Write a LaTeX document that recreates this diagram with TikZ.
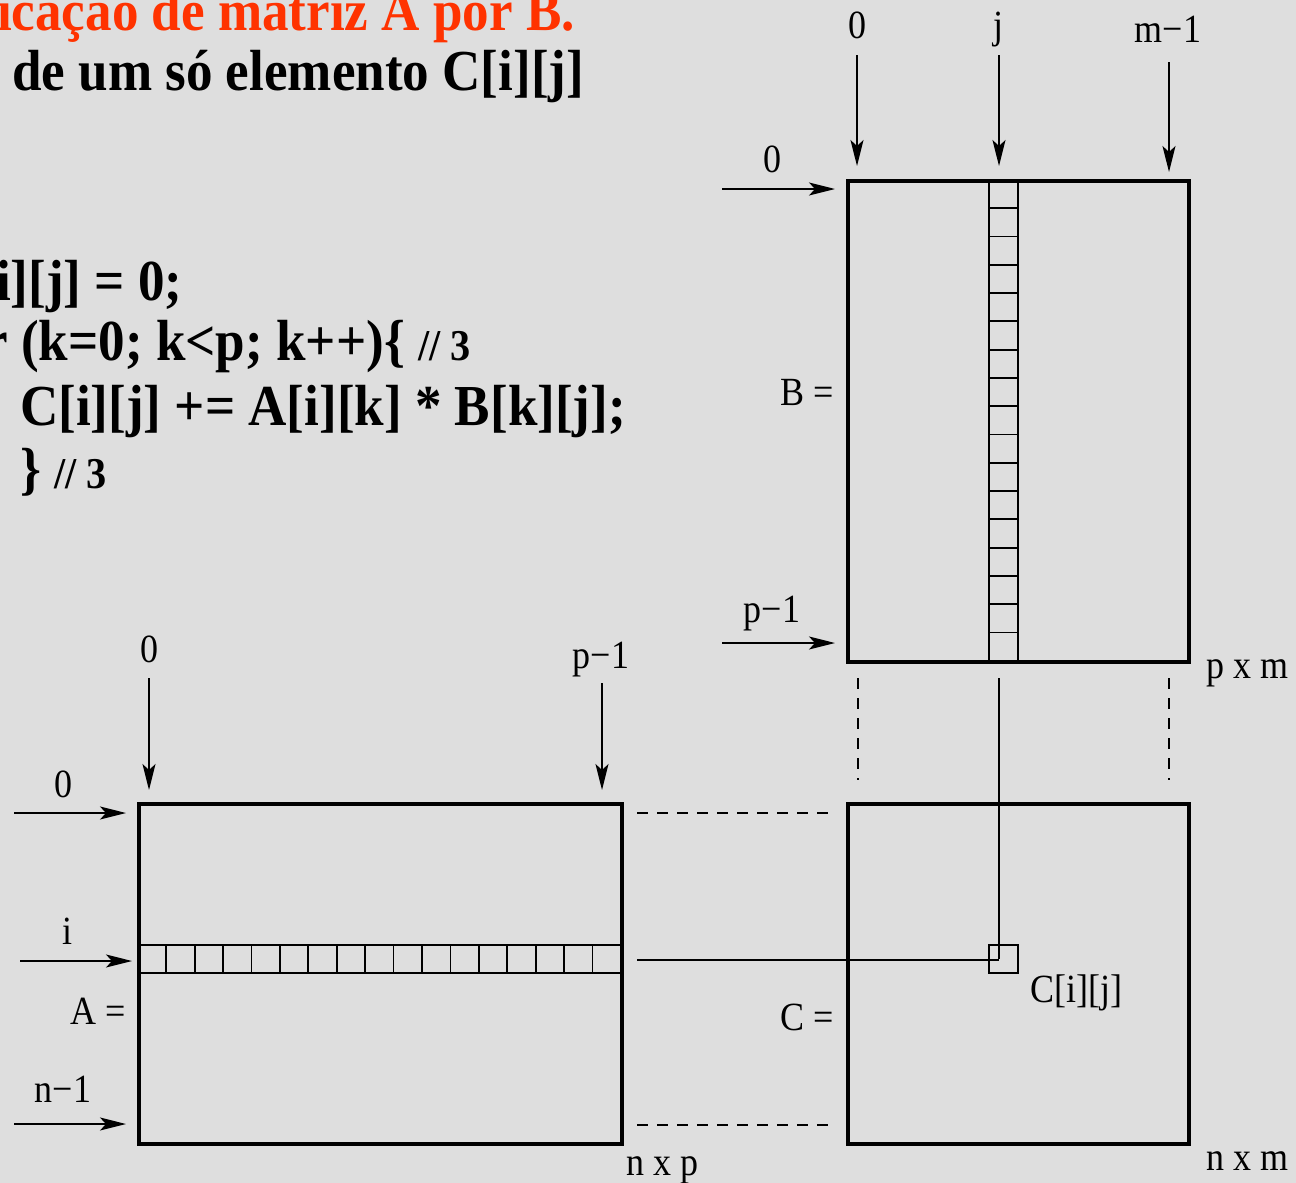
\documentclass[tikz,border=0pt]{standalone}
\usepackage{fontspec}
\setmainfont{Liberation Serif}
\newfontfamily\codefont[FakeStretch=0.915]{Liberation Serif}
\newfontfamily\labfont[FakeStretch=0.9]{Liberation Serif}
\usetikzlibrary{arrows.meta}
\definecolor{bgc}{RGB}{222,222,222}
\definecolor{titlered}{RGB}{255,51,0}
\begin{document}
\begin{tikzpicture}[x=1pt,y=-1pt,
  mbox/.style={draw, line width=3.6pt, inner sep=0pt, anchor=north west},
  cell/.style={draw, line width=1.8pt, inner sep=0pt, anchor=north west},
  arr/.style={-{Stealth[length=26pt,width=13pt,inset=6pt]}, line width=1.8pt},
  thinline/.style={line width=1.8pt},
  dashline/.style={line width=1.6pt, dash pattern=on 11pt off 9pt},
  lab/.style={font=\labfont\fontsize{40}{42}\selectfont, inner sep=0pt, anchor=base},
  code/.style={font=\codefont\bfseries\fontsize{58}{60}\selectfont, inner sep=0pt, anchor=base west}
]
\useasboundingbox (0,0) rectangle (1296,1183);
\fill[bgc] (0,0) rectangle (1296,1183);

% ---- title and code ----
\node[code, anchor=base east, text=titlered] (t1) at (575,30) {icação de matriz A por B.};
\node[code] (t2) at (12,90) {de um só elemento C[i][j]};
\node[code] (c1) at (-60,300) {C[i][j] = 0;};
\node[code] (c2) at (-60,360) {for (k=0; k<p; k++)\{ {\fontsize{44}{46}\selectfont // 3}};
\node[code] (c3) at (20,425) {C[i][j] += A[i][k] * B[k][j];};
\node[code] (c4) at (20,488) {\} {\fontsize{44}{46}\selectfont // 3}};

% ---- matrices ----
\node[mbox, minimum width=341pt, minimum height=481pt] (B) at (846,179) {};
\node[mbox, minimum width=483pt, minimum height=340pt] (A) at (137,802) {};
\node[mbox, minimum width=341pt, minimum height=340pt] (C) at (846,802) {};

\foreach \k in {0,...,16}
  \node[cell, minimum width=29pt, minimum height=28.29pt] (b\k) at (988,{179+\k*28.29}) {};
\foreach \k in {0,...,16}
  \node[cell, minimum width=28.41pt, minimum height=28pt] (a\k) at ({137+\k*28.41},944) {};
\node[cell, minimum width=29pt, minimum height=28pt] (cij) at (988,944) {};

% ---- labels of B ----
\node[lab] (lb0) at (857,38) {0};
\node[lab] (lbj) at (998,38) {j};
\node[lab] (lbm) at (1168,42) {m−1};
\node[lab] (lbr0) at (772,172) {0};
\node[lab] (lbp) at (772,622) {p−1};
\node[lab] (lbeq) at (807,405) {B =};
\node[lab] (lbdim) at (1247,678) {p x m};

\coordinate (s1) at (857,55);   \coordinate (e1) at (857,166);
\coordinate (s2) at (999,55);   \coordinate (e2) at (999,166);
\coordinate (s3) at (1169,62);  \coordinate (e3) at (1169,172);
\coordinate (s4) at (722,189);  \coordinate (e4) at (835,189);
\coordinate (s5) at (722,643);  \coordinate (e5) at (835,643);
\draw[arr] (s1) -- (e1);
\draw[arr] (s2) -- (e2);
\draw[arr] (s3) -- (e3);
\draw[arr] (s4) -- (e4);
\draw[arr] (s5) -- (e5);

% ---- labels of A ----
\node[lab] (la0) at (149,662) {0};
\node[lab] (lap) at (601,668) {p−1};
\node[lab] (lar0) at (63,797) {0};
\node[lab] (lai) at (68,944) {i};
\node[lab] (laeq) at (98,1024) {A =};
\node[lab] (lan) at (63,1102) {n−1};
\node[lab] (ladim) at (662,1175) {n x p};

\coordinate (s6) at (149,678);  \coordinate (e6) at (149,790);
\coordinate (s7) at (602,683);  \coordinate (e7) at (602,790);
\coordinate (s8) at (14,813);   \coordinate (e8) at (126,813);
\coordinate (s9) at (20,961);   \coordinate (e9) at (132,961);
\coordinate (s10) at (14,1124); \coordinate (e10) at (126,1124);
\draw[arr] (s6) -- (e6);
\draw[arr] (s7) -- (e7);
\draw[arr] (s8) -- (e8);
\draw[arr] (s9) -- (e9);
\draw[arr] (s10) -- (e10);

% ---- labels of C ----
\node[lab] (lceq) at (807,1030) {C =};
\node[lab] (lcij) at (1076,1002) {C[i][j]};
\node[lab] (lcdim) at (1247,1170) {n x m};

% ---- guide lines ----
\coordinate (v1) at (858,678); \coordinate (v1e) at (858,780);
\coordinate (v2) at (1169,678); \coordinate (v2e) at (1169,780);
\coordinate (h1) at (637,813); \coordinate (h1e) at (832,813);
\coordinate (h2) at (637,1125); \coordinate (h2e) at (832,1125);
\draw[dashline] (v1) -- (v1e);
\draw[dashline] (v2) -- (v2e);
\draw[dashline] (h1) -- (h1e);
\draw[dashline] (h2) -- (h2e);

\coordinate (colstart) at (999,678);
\coordinate (rowstart) at (637,960);
\draw[thinline] (colstart) -- (colstart |- cij.center);
\draw[thinline] (rowstart) -- (rowstart -| colstart);
\end{tikzpicture}
\end{document}
